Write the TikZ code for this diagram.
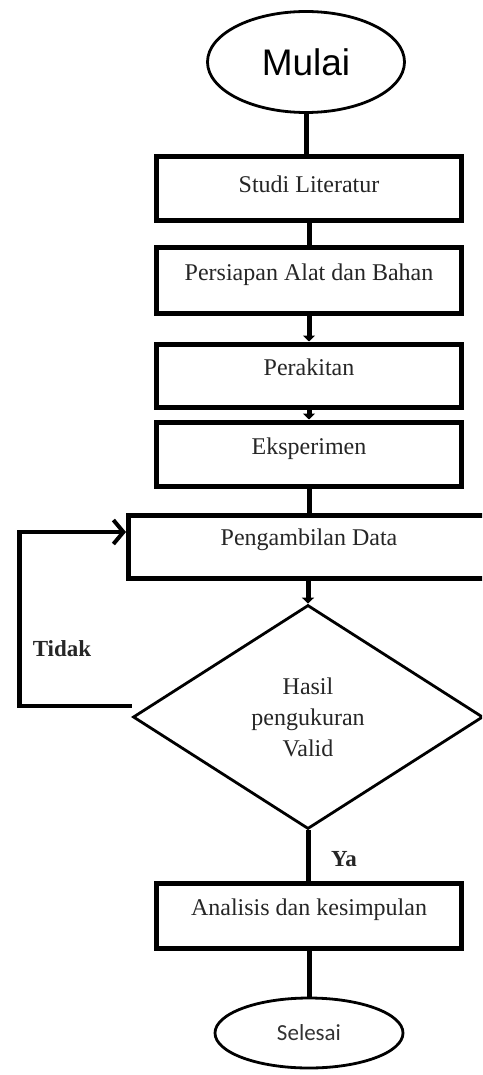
\documentclass[tikz,border=0pt]{standalone}
\usepackage{fontspec}
\setmainfont{Liberation Serif}
\newfontfamily\arialfont{Liberation Sans}
\newfontfamily\calfont{Carlito}
\usetikzlibrary{shapes.geometric,arrows.meta}
\begin{document}
\begin{tikzpicture}[x=1pt,y=-1pt,
  procbox/.style={draw, line width=5pt, minimum width=305pt, minimum height=64pt,
    inner sep=0pt, text height=10pt, text depth=10pt,
    font=\fontsize{24}{28}\selectfont, text=black!85},
  termnode/.style={draw, ellipse, line width=2.8pt, inner sep=0pt},
  decnode/.style={draw, diamond, line width=2.8pt, inner sep=0pt, aspect=1.5,
    minimum width=350pt, minimum height=224pt, align=center,
    font=\fontsize{24}{31}\selectfont, text=black!85},
  conn/.style={line width=5pt},
  arr/.style={line width=5pt, -{Triangle[length=6pt,width=12pt]}},
  looparr/.style={line width=4.5pt, -{Straight Barb[length=10pt,width=24pt,line width=4pt]}},
  lbl/.style={font=\bfseries\fontsize{23}{27}\selectfont, text=black!85, inner sep=0pt}
]
\useasboundingbox (0,0) rectangle (482,1075);
\clip (0,0) rectangle (482,1075);
\fill[white] (0,0) rectangle (482,1075);

\node[termnode, minimum width=197pt, minimum height=101pt,
  font=\arialfont\fontsize{37}{42}\selectfont] (mulai) at (306,62) {Mulai};
\node[procbox, text height=14pt, text depth=6pt] (studi) at (309,189) {Studi Literatur};
\node[procbox, minimum height=66pt] (persiapan) at (309,280) {Persiapan Alat dan Bahan};
\node[procbox, minimum height=63pt] (perakitan) at (309,375.5) {Perakitan};
\node[procbox] (eksperimen) at (309,454) {Eksperimen};
\node[procbox, minimum width=372pt, minimum height=63pt] (ambil) at (314.5,546.5) {};
\node[font=\fontsize{24}{28}\selectfont, text=black!85, text height=10pt, text depth=10pt, inner sep=0pt]
  (ambiltext) at (309,545.5) {Pengambilan Data};
\node[decnode] (dec) at (308,717) {Hasil\\pengukuran\\Valid};
\node[procbox, minimum height=65pt] (analisis) at (309,915.5) {Analisis dan kesimpulan};
\node[termnode, minimum width=188pt, minimum height=70pt,
  font=\calfont\fontsize{23}{27}\selectfont, text=black!80] (selesai) at (309,1033) {Selesai};

\draw[conn] (mulai.south) -- (mulai.south |- studi.north);
\draw[conn] (studi.south) -- (persiapan.north);
\draw[arr] (persiapan.south) -- (perakitan.north);
\draw[arr] (perakitan.south) -- (eksperimen.north);
\draw[conn] (eksperimen.south) -- (eksperimen.south |- ambil.north);
\draw[arr] (dec.north |- ambil.south) -- (dec.north);
\draw[conn] (dec.south) -- (dec.south |- analisis.north);
\draw[conn] (analisis.south) -- (selesai.north);
\draw[looparr] ([yshift=11pt]dec.west) -- ++(-112,0) |- ([yshift=14.5pt]ambil.west);

\node[lbl] (tidak) at (62,649) {Tidak};
\node[lbl] (ya) at (344,859) {Ya};
\end{tikzpicture}
\end{document}
